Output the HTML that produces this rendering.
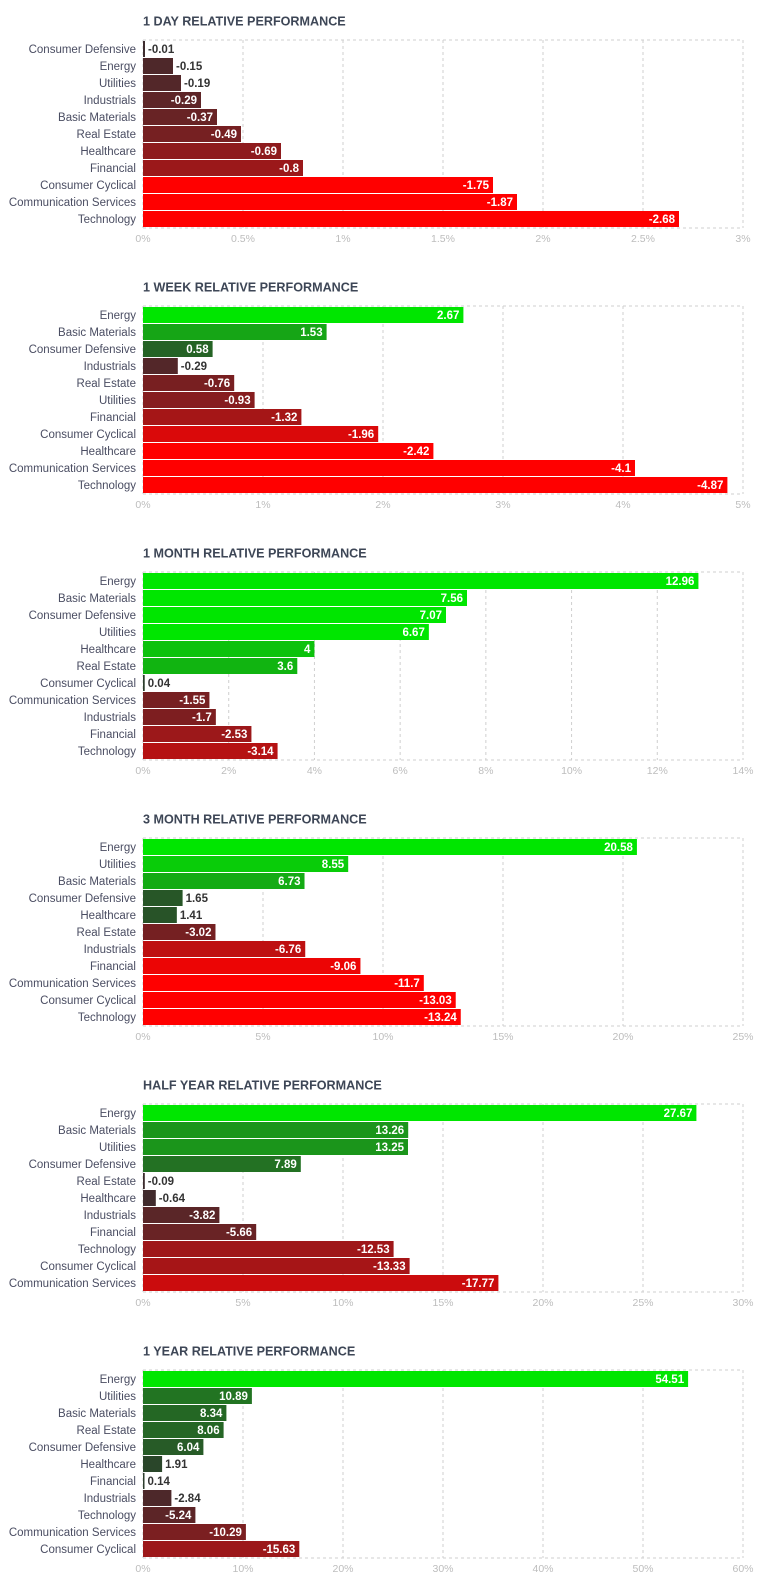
<!DOCTYPE html>
<html><head><meta charset="utf-8"><style>
html,body{margin:0;padding:0;background:#fff;}
svg{display:block;font-family:"Liberation Sans",sans-serif;}
</style></head><body>
<svg id="root" width="773" height="1585" viewBox="0 0 773 1585" xmlns="http://www.w3.org/2000/svg"></svg>
<script>
const titles = ["1 DAY RELATIVE PERFORMANCE","1 WEEK RELATIVE PERFORMANCE","1 MONTH RELATIVE PERFORMANCE","3 MONTH RELATIVE PERFORMANCE","HALF YEAR RELATIVE PERFORMANCE","1 YEAR RELATIVE PERFORMANCE"];
const dayCats = ["Consumer Defensive","Energy","Utilities","Industrials","Basic Materials","Real Estate","Healthcare","Financial","Consumer Cyclical","Communication Services","Technology"];
const dayVals = [-0.01,-0.15,-0.19,-0.29,-0.37,-0.49,-0.69,-0.8,-1.75,-1.87,-2.68];
const weekCats = ["Energy","Basic Materials","Consumer Defensive","Industrials","Real Estate","Utilities","Financial","Consumer Cyclical","Healthcare","Communication Services","Technology"];
const weekVals = [2.67,1.53,0.58,-0.29,-0.76,-0.93,-1.32,-1.96,-2.42,-4.1,-4.87];
const monthCats = ["Energy","Basic Materials","Consumer Defensive","Utilities","Healthcare","Real Estate","Consumer Cyclical","Communication Services","Industrials","Financial","Technology"];
const monthVals = [12.96,7.56,7.07,6.67,4,3.6,0.04,-1.55,-1.7,-2.53,-3.14];
const m3Cats = ["Energy","Utilities","Basic Materials","Consumer Defensive","Healthcare","Real Estate","Industrials","Financial","Communication Services","Consumer Cyclical","Technology"];
const m3Vals = [20.58,8.55,6.73,1.65,1.41,-3.02,-6.76,-9.06,-11.7,-13.03,-13.24];
const halfCats = ["Energy","Basic Materials","Utilities","Consumer Defensive","Real Estate","Healthcare","Industrials","Financial","Technology","Consumer Cyclical","Communication Services"];
const halfVals = [27.67,13.26,13.25,7.89,-0.09,-0.64,-3.82,-5.66,-12.53,-13.33,-17.77];
const yearCats = ["Energy","Utilities","Basic Materials","Real Estate","Consumer Defensive","Healthcare","Financial","Industrials","Technology","Communication Services","Consumer Cyclical"];
const yearVals = [54.51,10.89,8.34,8.06,6.04,1.91,0.14,-2.84,-5.24,-10.29,-15.63];
const axisMax = [3,5,14,25,30,60];
const tickStep = [0.5,1,2,5,5,10];
const colorScale = [1.6,2.4,5,10,24,31];

const allCats=[dayCats,weekCats,monthCats,m3Cats,halfCats,yearCats];
const allVals=[dayVals,weekVals,monthVals,m3Vals,halfVals,yearVals];
const NS="http://www.w3.org/2000/svg";
const root=document.getElementById('root');
const X0=143, W=600, TOP=41, ROW=17, BH=16, PITCH=266;
function mk(tag,attrs,parent){const e=document.createElementNS(NS,tag);for(const k in attrs)e.setAttribute(k,attrs[k]);parent.appendChild(e);return e;}
function lerp(a,b,t){return a.map((v,i)=>Math.round(v+(b[i]-v)*t));}
function barColor(v,s){
  let t=Math.min(1,Math.abs(v)/s);
  let c;
  if(v<0){const d=[60,44,46],m=[155,24,26],e=[255,0,0];c=t<0.5?lerp(d,m,t/0.5):lerp(m,e,(t-0.5)/0.5);}
  else{const d=[44,60,44],m=[30,140,30],e=[0,230,0];c=t<0.5?lerp(d,m,t/0.5):lerp(m,e,(t-0.5)/0.5);}
  return `rgb(${c[0]},${c[1]},${c[2]})`;
}
function fmt(v){return String(v);}
allVals.forEach((vals,ci)=>{
  const cats=allCats[ci];
  const oy=ci*PITCH;
  const g=mk('g',{},root);
  
  
  const max=axisMax[ci];
  const sx=v=>X0+Math.abs(v)/max*W;
  const bottom=TOP+ROW*cats.length;
  const tt=mk('text',{x:X0,y:oy+25.5,'font-size':'12.6','font-weight':'bold',fill:'#3d4656'},g);
  tt.textContent=titles[ci];
  
  
  const nt=Math.round(max/tickStep[ci]);
  for(let k=0;k<=nt;k++){
    const v=k*tickStep[ci];
    const x=sx(v);
    const gl=mk('line',{x1:x,x2:x,y1:oy+TOP-1,y2:oy+bottom,stroke:'#cfcfcf','stroke-dasharray':'3,3','stroke-width':'1'},g);
    
    
    const tl=mk('text',{x:x,y:oy+bottom+14,'font-size':'10.5','text-anchor':'middle',fill:'#bdbdbd'},g);
    tl.textContent=(+v.toFixed(2))+'%';
    
    
  }
  const b1=mk('line',{x1:X0,x2:X0+W,y1:oy+TOP-1,y2:oy+TOP-1,stroke:'#cfcfcf','stroke-dasharray':'3,3'},g);
  
  
  const b2=mk('line',{x1:X0,x2:X0+W,y1:oy+bottom,y2:oy+bottom,stroke:'#cfcfcf','stroke-dasharray':'3,3'},g);
  
  
  vals.forEach((v,i)=>{
    const y=oy+TOP+i*ROW;
    const lab=mk('text',{x:136,y:y+12,'font-size':'11.5','text-anchor':'end',fill:'#4a4d62'},g);
    lab.textContent=cats[i];
    
    
    const w=Math.max(1.5,sx(v)-X0);
    const r=mk('rect',{x:X0,y:y,width:w,height:BH,fill:barColor(v,colorScale[ci])},g);
    
    
    const txt=fmt(v);
    const tw=txt.length*6.6;
    let vl;
    if(w>tw+16){
      vl=mk('text',{x:X0+w-4,y:y+12,'font-size':'11.5','font-weight':'bold','text-anchor':'end',fill:'#fff'},g);
    }else{
      vl=mk('text',{x:X0+w+3,y:y+12,'font-size':'11.5','font-weight':'bold','text-anchor':'start',fill:'#333'},g);
    }
    vl.textContent=txt;
    
    
  });
});
</script>
</body></html>
